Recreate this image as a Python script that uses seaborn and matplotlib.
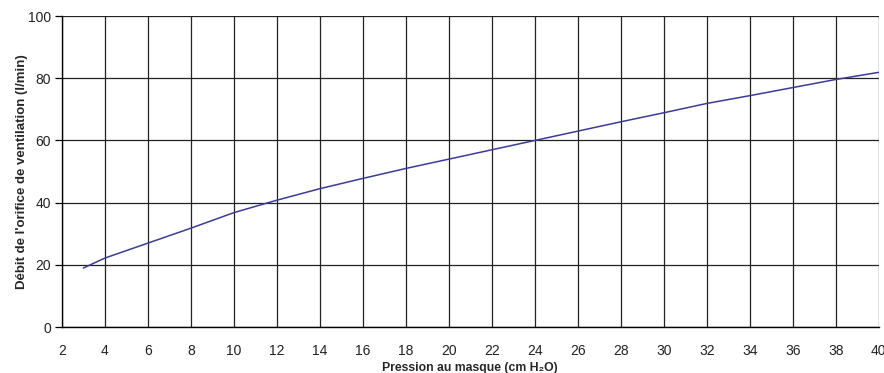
import matplotlib
matplotlib.use('Agg')
import matplotlib.pyplot as plt
import seaborn as sns
import pandas as pd

pression = [3, 4, 6, 8, 10, 12, 14, 16, 18, 20, 22, 24, 26, 28, 30, 32, 34, 36, 38, 40]
debit = [19, 22.2, 27, 31.8, 36.8, 40.8, 44.5, 47.8, 51, 54, 57, 60, 63, 66, 68.9, 71.9, 74.4, 77, 79.6, 81.9]

df = pd.DataFrame({'pression': pression, 'debit': debit})

sns.set_theme(style='white')
plt.rcParams['font.family'] = ['Liberation Sans', 'DejaVu Sans']

fig = plt.figure(figsize=(8.84, 3.73), dpi=100)
ax = fig.add_axes([0.070, 0.123, 0.924, 0.834])

sns.lineplot(data=df, x='pression', y='debit', color='#3b3b9b', linewidth=1.1, ax=ax)

ax.set_xlim(2, 40)
ax.set_ylim(0, 100)
ax.set_xticks(range(2, 41, 2))
ax.set_yticks(range(0, 101, 20))
ax.grid(True, color='#222222', linewidth=0.9)
ax.set_axisbelow(True)
for s in ['top', 'right']:
    ax.spines[s].set_visible(False)
for s in ['left', 'bottom']:
    ax.spines[s].set_color('black')
    ax.spines[s].set_linewidth(1.0)

ax.tick_params(axis='y', left=True, length=5, width=0.9, color='black', labelsize=10, pad=3, labelcolor='#222222')
ax.tick_params(axis='x', bottom=False, labelsize=10, pad=6, labelcolor='#222222')

ax.set_xlabel('Pression au masque (cm H\u2082O)', fontsize=8.8, fontweight='bold', labelpad=3)
ax.set_ylabel("Débit de l'orifice de ventilation (l/min)", fontsize=9.5, fontweight='bold', labelpad=0)

fig.savefig('out.png', dpi=100)
